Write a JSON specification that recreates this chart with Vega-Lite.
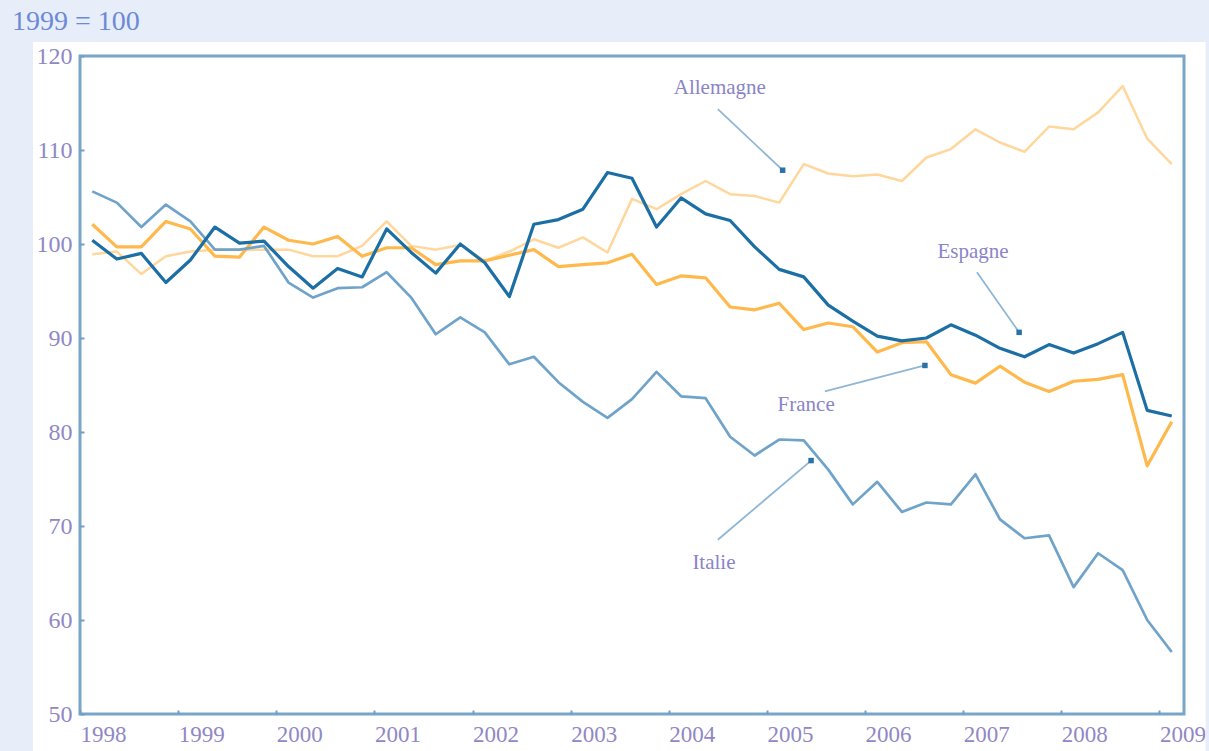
{
  "$schema": "https://vega.github.io/schema/vega-lite/v6.json",
  "width": 1104,
  "height": 658,
  "autosize": {"type": "none"},
  "padding": {"left": 80, "top": 56, "right": 25, "bottom": 37},
  "background": "white",
  "config": {
    "view": {"stroke": "#78a5c8", "strokeWidth": 3},
    "font": "Liberation Serif"
  },
  "datasets": {
    "series": [
      {"pays": "Allemagne", "t": 1998.125, "v": 98.9}, {"pays": "Allemagne", "t": 1998.375, "v": 99.2}, {"pays": "Allemagne", "t": 1998.625, "v": 96.8}, {"pays": "Allemagne", "t": 1998.875, "v": 98.7},
      {"pays": "Allemagne", "t": 1999.125, "v": 99.2}, {"pays": "Allemagne", "t": 1999.375, "v": 99.4}, {"pays": "Allemagne", "t": 1999.625, "v": 99.4}, {"pays": "Allemagne", "t": 1999.875, "v": 99.4},
      {"pays": "Allemagne", "t": 2000.125, "v": 99.4}, {"pays": "Allemagne", "t": 2000.375, "v": 98.7}, {"pays": "Allemagne", "t": 2000.625, "v": 98.7}, {"pays": "Allemagne", "t": 2000.875, "v": 99.8},
      {"pays": "Allemagne", "t": 2001.125, "v": 102.4}, {"pays": "Allemagne", "t": 2001.375, "v": 99.8}, {"pays": "Allemagne", "t": 2001.625, "v": 99.4}, {"pays": "Allemagne", "t": 2001.875, "v": 99.9},
      {"pays": "Allemagne", "t": 2002.125, "v": 98.2}, {"pays": "Allemagne", "t": 2002.375, "v": 99.2}, {"pays": "Allemagne", "t": 2002.625, "v": 100.5}, {"pays": "Allemagne", "t": 2002.875, "v": 99.6},
      {"pays": "Allemagne", "t": 2003.125, "v": 100.7}, {"pays": "Allemagne", "t": 2003.375, "v": 99.1}, {"pays": "Allemagne", "t": 2003.625, "v": 104.8}, {"pays": "Allemagne", "t": 2003.875, "v": 103.7},
      {"pays": "Allemagne", "t": 2004.125, "v": 105.3}, {"pays": "Allemagne", "t": 2004.375, "v": 106.7}, {"pays": "Allemagne", "t": 2004.625, "v": 105.3}, {"pays": "Allemagne", "t": 2004.875, "v": 105.1},
      {"pays": "Allemagne", "t": 2005.125, "v": 104.4}, {"pays": "Allemagne", "t": 2005.375, "v": 108.5}, {"pays": "Allemagne", "t": 2005.625, "v": 107.5}, {"pays": "Allemagne", "t": 2005.875, "v": 107.2},
      {"pays": "Allemagne", "t": 2006.125, "v": 107.4}, {"pays": "Allemagne", "t": 2006.375, "v": 106.7}, {"pays": "Allemagne", "t": 2006.625, "v": 109.2}, {"pays": "Allemagne", "t": 2006.875, "v": 110.1},
      {"pays": "Allemagne", "t": 2007.125, "v": 112.2}, {"pays": "Allemagne", "t": 2007.375, "v": 110.8}, {"pays": "Allemagne", "t": 2007.625, "v": 109.8}, {"pays": "Allemagne", "t": 2007.875, "v": 112.5},
      {"pays": "Allemagne", "t": 2008.125, "v": 112.2}, {"pays": "Allemagne", "t": 2008.375, "v": 114.0}, {"pays": "Allemagne", "t": 2008.625, "v": 116.8}, {"pays": "Allemagne", "t": 2008.875, "v": 111.2},
      {"pays": "Allemagne", "t": 2009.125, "v": 108.5},

      {"pays": "France", "t": 1998.125, "v": 102.1}, {"pays": "France", "t": 1998.375, "v": 99.7}, {"pays": "France", "t": 1998.625, "v": 99.7}, {"pays": "France", "t": 1998.875, "v": 102.4},
      {"pays": "France", "t": 1999.125, "v": 101.6}, {"pays": "France", "t": 1999.375, "v": 98.7}, {"pays": "France", "t": 1999.625, "v": 98.6}, {"pays": "France", "t": 1999.875, "v": 101.8},
      {"pays": "France", "t": 2000.125, "v": 100.4}, {"pays": "France", "t": 2000.375, "v": 100.0}, {"pays": "France", "t": 2000.625, "v": 100.8}, {"pays": "France", "t": 2000.875, "v": 98.7},
      {"pays": "France", "t": 2001.125, "v": 99.6}, {"pays": "France", "t": 2001.375, "v": 99.6}, {"pays": "France", "t": 2001.625, "v": 97.8}, {"pays": "France", "t": 2001.875, "v": 98.2},
      {"pays": "France", "t": 2002.125, "v": 98.2}, {"pays": "France", "t": 2002.375, "v": 98.8}, {"pays": "France", "t": 2002.625, "v": 99.4}, {"pays": "France", "t": 2002.875, "v": 97.6},
      {"pays": "France", "t": 2003.125, "v": 97.8}, {"pays": "France", "t": 2003.375, "v": 98.0}, {"pays": "France", "t": 2003.625, "v": 98.9}, {"pays": "France", "t": 2003.875, "v": 95.7},
      {"pays": "France", "t": 2004.125, "v": 96.6}, {"pays": "France", "t": 2004.375, "v": 96.4}, {"pays": "France", "t": 2004.625, "v": 93.3}, {"pays": "France", "t": 2004.875, "v": 93.0},
      {"pays": "France", "t": 2005.125, "v": 93.7}, {"pays": "France", "t": 2005.375, "v": 90.9}, {"pays": "France", "t": 2005.625, "v": 91.6}, {"pays": "France", "t": 2005.875, "v": 91.2},
      {"pays": "France", "t": 2006.125, "v": 88.5}, {"pays": "France", "t": 2006.375, "v": 89.5}, {"pays": "France", "t": 2006.625, "v": 89.6}, {"pays": "France", "t": 2006.875, "v": 86.1},
      {"pays": "France", "t": 2007.125, "v": 85.2}, {"pays": "France", "t": 2007.375, "v": 87.0}, {"pays": "France", "t": 2007.625, "v": 85.3}, {"pays": "France", "t": 2007.875, "v": 84.3},
      {"pays": "France", "t": 2008.125, "v": 85.4}, {"pays": "France", "t": 2008.375, "v": 85.6}, {"pays": "France", "t": 2008.625, "v": 86.1}, {"pays": "France", "t": 2008.875, "v": 76.4},
      {"pays": "France", "t": 2009.125, "v": 81.1},

      {"pays": "Italie", "t": 1998.125, "v": 105.6}, {"pays": "Italie", "t": 1998.375, "v": 104.4}, {"pays": "Italie", "t": 1998.625, "v": 101.8}, {"pays": "Italie", "t": 1998.875, "v": 104.2},
      {"pays": "Italie", "t": 1999.125, "v": 102.4}, {"pays": "Italie", "t": 1999.375, "v": 99.4}, {"pays": "Italie", "t": 1999.625, "v": 99.4}, {"pays": "Italie", "t": 1999.875, "v": 99.8},
      {"pays": "Italie", "t": 2000.125, "v": 95.9}, {"pays": "Italie", "t": 2000.375, "v": 94.3}, {"pays": "Italie", "t": 2000.625, "v": 95.3}, {"pays": "Italie", "t": 2000.875, "v": 95.4},
      {"pays": "Italie", "t": 2001.125, "v": 97.0}, {"pays": "Italie", "t": 2001.375, "v": 94.3}, {"pays": "Italie", "t": 2001.625, "v": 90.4}, {"pays": "Italie", "t": 2001.875, "v": 92.2},
      {"pays": "Italie", "t": 2002.125, "v": 90.6}, {"pays": "Italie", "t": 2002.375, "v": 87.2}, {"pays": "Italie", "t": 2002.625, "v": 88.0}, {"pays": "Italie", "t": 2002.875, "v": 85.3},
      {"pays": "Italie", "t": 2003.125, "v": 83.2}, {"pays": "Italie", "t": 2003.375, "v": 81.5}, {"pays": "Italie", "t": 2003.625, "v": 83.5}, {"pays": "Italie", "t": 2003.875, "v": 86.4},
      {"pays": "Italie", "t": 2004.125, "v": 83.8}, {"pays": "Italie", "t": 2004.375, "v": 83.6}, {"pays": "Italie", "t": 2004.625, "v": 79.5}, {"pays": "Italie", "t": 2004.875, "v": 77.5},
      {"pays": "Italie", "t": 2005.125, "v": 79.2}, {"pays": "Italie", "t": 2005.375, "v": 79.1}, {"pays": "Italie", "t": 2005.625, "v": 76.0}, {"pays": "Italie", "t": 2005.875, "v": 72.3},
      {"pays": "Italie", "t": 2006.125, "v": 74.7}, {"pays": "Italie", "t": 2006.375, "v": 71.5}, {"pays": "Italie", "t": 2006.625, "v": 72.5}, {"pays": "Italie", "t": 2006.875, "v": 72.3},
      {"pays": "Italie", "t": 2007.125, "v": 75.5}, {"pays": "Italie", "t": 2007.375, "v": 70.7}, {"pays": "Italie", "t": 2007.625, "v": 68.7}, {"pays": "Italie", "t": 2007.875, "v": 69.0},
      {"pays": "Italie", "t": 2008.125, "v": 63.5}, {"pays": "Italie", "t": 2008.375, "v": 67.1}, {"pays": "Italie", "t": 2008.625, "v": 65.3}, {"pays": "Italie", "t": 2008.875, "v": 60.0},
      {"pays": "Italie", "t": 2009.125, "v": 56.6},

      {"pays": "Espagne", "t": 1998.125, "v": 100.4}, {"pays": "Espagne", "t": 1998.375, "v": 98.4}, {"pays": "Espagne", "t": 1998.625, "v": 99.0}, {"pays": "Espagne", "t": 1998.875, "v": 95.9},
      {"pays": "Espagne", "t": 1999.125, "v": 98.3}, {"pays": "Espagne", "t": 1999.375, "v": 101.8}, {"pays": "Espagne", "t": 1999.625, "v": 100.1}, {"pays": "Espagne", "t": 1999.875, "v": 100.3},
      {"pays": "Espagne", "t": 2000.125, "v": 97.6}, {"pays": "Espagne", "t": 2000.375, "v": 95.3}, {"pays": "Espagne", "t": 2000.625, "v": 97.4}, {"pays": "Espagne", "t": 2000.875, "v": 96.5},
      {"pays": "Espagne", "t": 2001.125, "v": 101.6}, {"pays": "Espagne", "t": 2001.375, "v": 99.1}, {"pays": "Espagne", "t": 2001.625, "v": 96.9}, {"pays": "Espagne", "t": 2001.875, "v": 100.0},
      {"pays": "Espagne", "t": 2002.125, "v": 98.0}, {"pays": "Espagne", "t": 2002.375, "v": 94.4}, {"pays": "Espagne", "t": 2002.625, "v": 102.1}, {"pays": "Espagne", "t": 2002.875, "v": 102.6},
      {"pays": "Espagne", "t": 2003.125, "v": 103.7}, {"pays": "Espagne", "t": 2003.375, "v": 107.6}, {"pays": "Espagne", "t": 2003.625, "v": 107.0}, {"pays": "Espagne", "t": 2003.875, "v": 101.8},
      {"pays": "Espagne", "t": 2004.125, "v": 104.9}, {"pays": "Espagne", "t": 2004.375, "v": 103.2}, {"pays": "Espagne", "t": 2004.625, "v": 102.5}, {"pays": "Espagne", "t": 2004.875, "v": 99.7},
      {"pays": "Espagne", "t": 2005.125, "v": 97.3}, {"pays": "Espagne", "t": 2005.375, "v": 96.5}, {"pays": "Espagne", "t": 2005.625, "v": 93.5}, {"pays": "Espagne", "t": 2005.875, "v": 91.8},
      {"pays": "Espagne", "t": 2006.125, "v": 90.2}, {"pays": "Espagne", "t": 2006.375, "v": 89.7}, {"pays": "Espagne", "t": 2006.625, "v": 90.0}, {"pays": "Espagne", "t": 2006.875, "v": 91.4},
      {"pays": "Espagne", "t": 2007.125, "v": 90.3}, {"pays": "Espagne", "t": 2007.375, "v": 88.9}, {"pays": "Espagne", "t": 2007.625, "v": 88.0}, {"pays": "Espagne", "t": 2007.875, "v": 89.3},
      {"pays": "Espagne", "t": 2008.125, "v": 88.4}, {"pays": "Espagne", "t": 2008.375, "v": 89.4}, {"pays": "Espagne", "t": 2008.625, "v": 90.6}, {"pays": "Espagne", "t": 2008.875, "v": 82.3},
      {"pays": "Espagne", "t": 2009.125, "v": 81.7}
    ],
    "labels": [
      {"label": "Allemagne", "t": 2004.52, "v": 116.6},
      {"label": "Espagne", "t": 2007.10, "v": 99.1},
      {"label": "France", "t": 2005.40, "v": 82.9},
      {"label": "Italie", "t": 2004.46, "v": 66.1}
    ],
    "arrows": [
      {"label": "Allemagne", "t": 2004.50, "v": 114.35, "t2": 2005.16, "v2": 107.85},
      {"label": "Espagne", "t": 2007.14, "v": 96.99, "t2": 2007.57, "v2": 90.6},
      {"label": "France", "t": 2005.59, "v": 84.31, "t2": 2006.61, "v2": 87.08},
      {"label": "Italie", "t": 2004.50, "v": 68.54, "t2": 2005.45, "v2": 76.96}
    ],
    "heads": [
      {"label": "Allemagne", "t": 2005.16, "v": 107.85},
      {"label": "Espagne", "t": 2007.57, "v": 90.6},
      {"label": "France", "t": 2006.61, "v": 87.08},
      {"label": "Italie", "t": 2005.45, "v": 76.96}
    ]
  },
  "layer": [
    {
      "data": {"values": [{}]},
      "mark": {"type": "rect", "fill": "#e7eef9", "strokeWidth": 0},
      "encoding": {
        "x": {"datum": 1996, "type": "quantitative"},
        "x2": {"datum": 1997.521},
        "y": {"datum": 40, "type": "quantitative"},
        "y2": {"datum": 126.07}
      }
    },
    {
      "data": {"values": [{}]},
      "mark": {"type": "rect", "fill": "#e7eef9", "strokeWidth": 0},
      "encoding": {
        "x": {"datum": 1996, "type": "quantitative"},
        "x2": {"datum": 2011},
        "y": {"datum": 121.49, "type": "quantitative"},
        "y2": {"datum": 126.07}
      }
    },
    {
      "data": {"values": [{}]},
      "mark": {"type": "rect", "fill": "#e7eef9", "strokeWidth": 0},
      "encoding": {
        "x": {"datum": 2009.47, "type": "quantitative"},
        "x2": {"datum": 2011},
        "y": {"datum": 40, "type": "quantitative"},
        "y2": {"datum": 126.07}
      }
    },
    {
      "data": {"values": [{}]},
      "mark": {"type": "text", "text": "1999 = 100", "font": "Liberation Serif", "fontSize": 28, "color": "#6c8ad8", "align": "left", "baseline": "middle"},
      "encoding": {
        "x": {"datum": 1997.307, "type": "quantitative"},
        "y": {"datum": 123.65, "type": "quantitative"}
      }
    },
    {
      "encoding": {
        "x": {
          "field": "t",
          "type": "quantitative",
          "scale": {"domain": [1998, 2009.25], "nice": false, "zero": false},
          "axis": {
            "values": [1998, 1999, 2000, 2001, 2002, 2003, 2004, 2005, 2006, 2007, 2008, 2009],
            "format": "d",
            "title": null,
            "domain": false,
            "grid": false,
            "ticks": true,
            "tickSize": -4,
            "tickWidth": 2,
            "tickColor": "#6f9fc4",
            "labelAlign": "left",
            "labelDx": -5,
            "labelPadding": 13,
            "labelFontSize": 23,
            "labelFont": "Liberation Serif",
            "labelColor": "#9088c4",
            "labelOverlap": false,
            "labelBound": false,
            "labelFlush": false
          }
        },
        "y": {
          "field": "v",
          "type": "quantitative",
          "scale": {"domain": [50, 120], "nice": false, "zero": false},
          "axis": {
            "values": [50, 60, 70, 80, 90, 100, 110, 120],
            "title": null,
            "domain": false,
            "grid": false,
            "ticks": true,
            "tickSize": -4,
            "tickWidth": 2,
            "tickColor": "#6f9fc4",
            "labelPadding": 12,
            "labelFontSize": 24,
            "labelFont": "Liberation Serif",
            "labelColor": "#9088c4",
            "labelOverlap": false,
            "labelBound": false,
            "labelFlush": false
          }
        }
      },
      "layer": [
        {
          "data": {"name": "series"},
          "transform": [{"filter": "datum.pays === 'Allemagne'"}],
          "mark": {"type": "line", "color": "#ffd79c", "strokeWidth": 2.5, "strokeJoin": "round"}
        },
        {
          "data": {"name": "series"},
          "transform": [{"filter": "datum.pays === 'France'"}],
          "mark": {"type": "line", "color": "#ffb84c", "strokeWidth": 3.2, "strokeJoin": "round"}
        },
        {
          "data": {"name": "series"},
          "transform": [{"filter": "datum.pays === 'Italie'"}],
          "mark": {"type": "line", "color": "#6fa3c9", "strokeWidth": 2.7, "strokeJoin": "round"}
        },
        {
          "data": {"name": "series"},
          "transform": [{"filter": "datum.pays === 'Espagne'"}],
          "mark": {"type": "line", "color": "#1c6fa5", "strokeWidth": 3.2, "strokeJoin": "round"}
        },
        {
          "data": {"name": "arrows"},
          "mark": {"type": "rule", "color": "#8fb6d4", "strokeWidth": 1.8},
          "encoding": {
            "x2": {"field": "t2"},
            "y2": {"field": "v2"}
          }
        },
        {
          "data": {"name": "heads"},
          "mark": {"type": "point", "shape": "square", "filled": true, "size": 30, "color": "#2a72a6", "opacity": 1}
        },
        {
          "data": {"name": "labels"},
          "mark": {"type": "text", "font": "Liberation Serif", "fontSize": 21, "color": "#8a84c8", "align": "center", "baseline": "middle"},
          "encoding": {
            "text": {"field": "label"}
          }
        }
      ]
    }
  ]
}
